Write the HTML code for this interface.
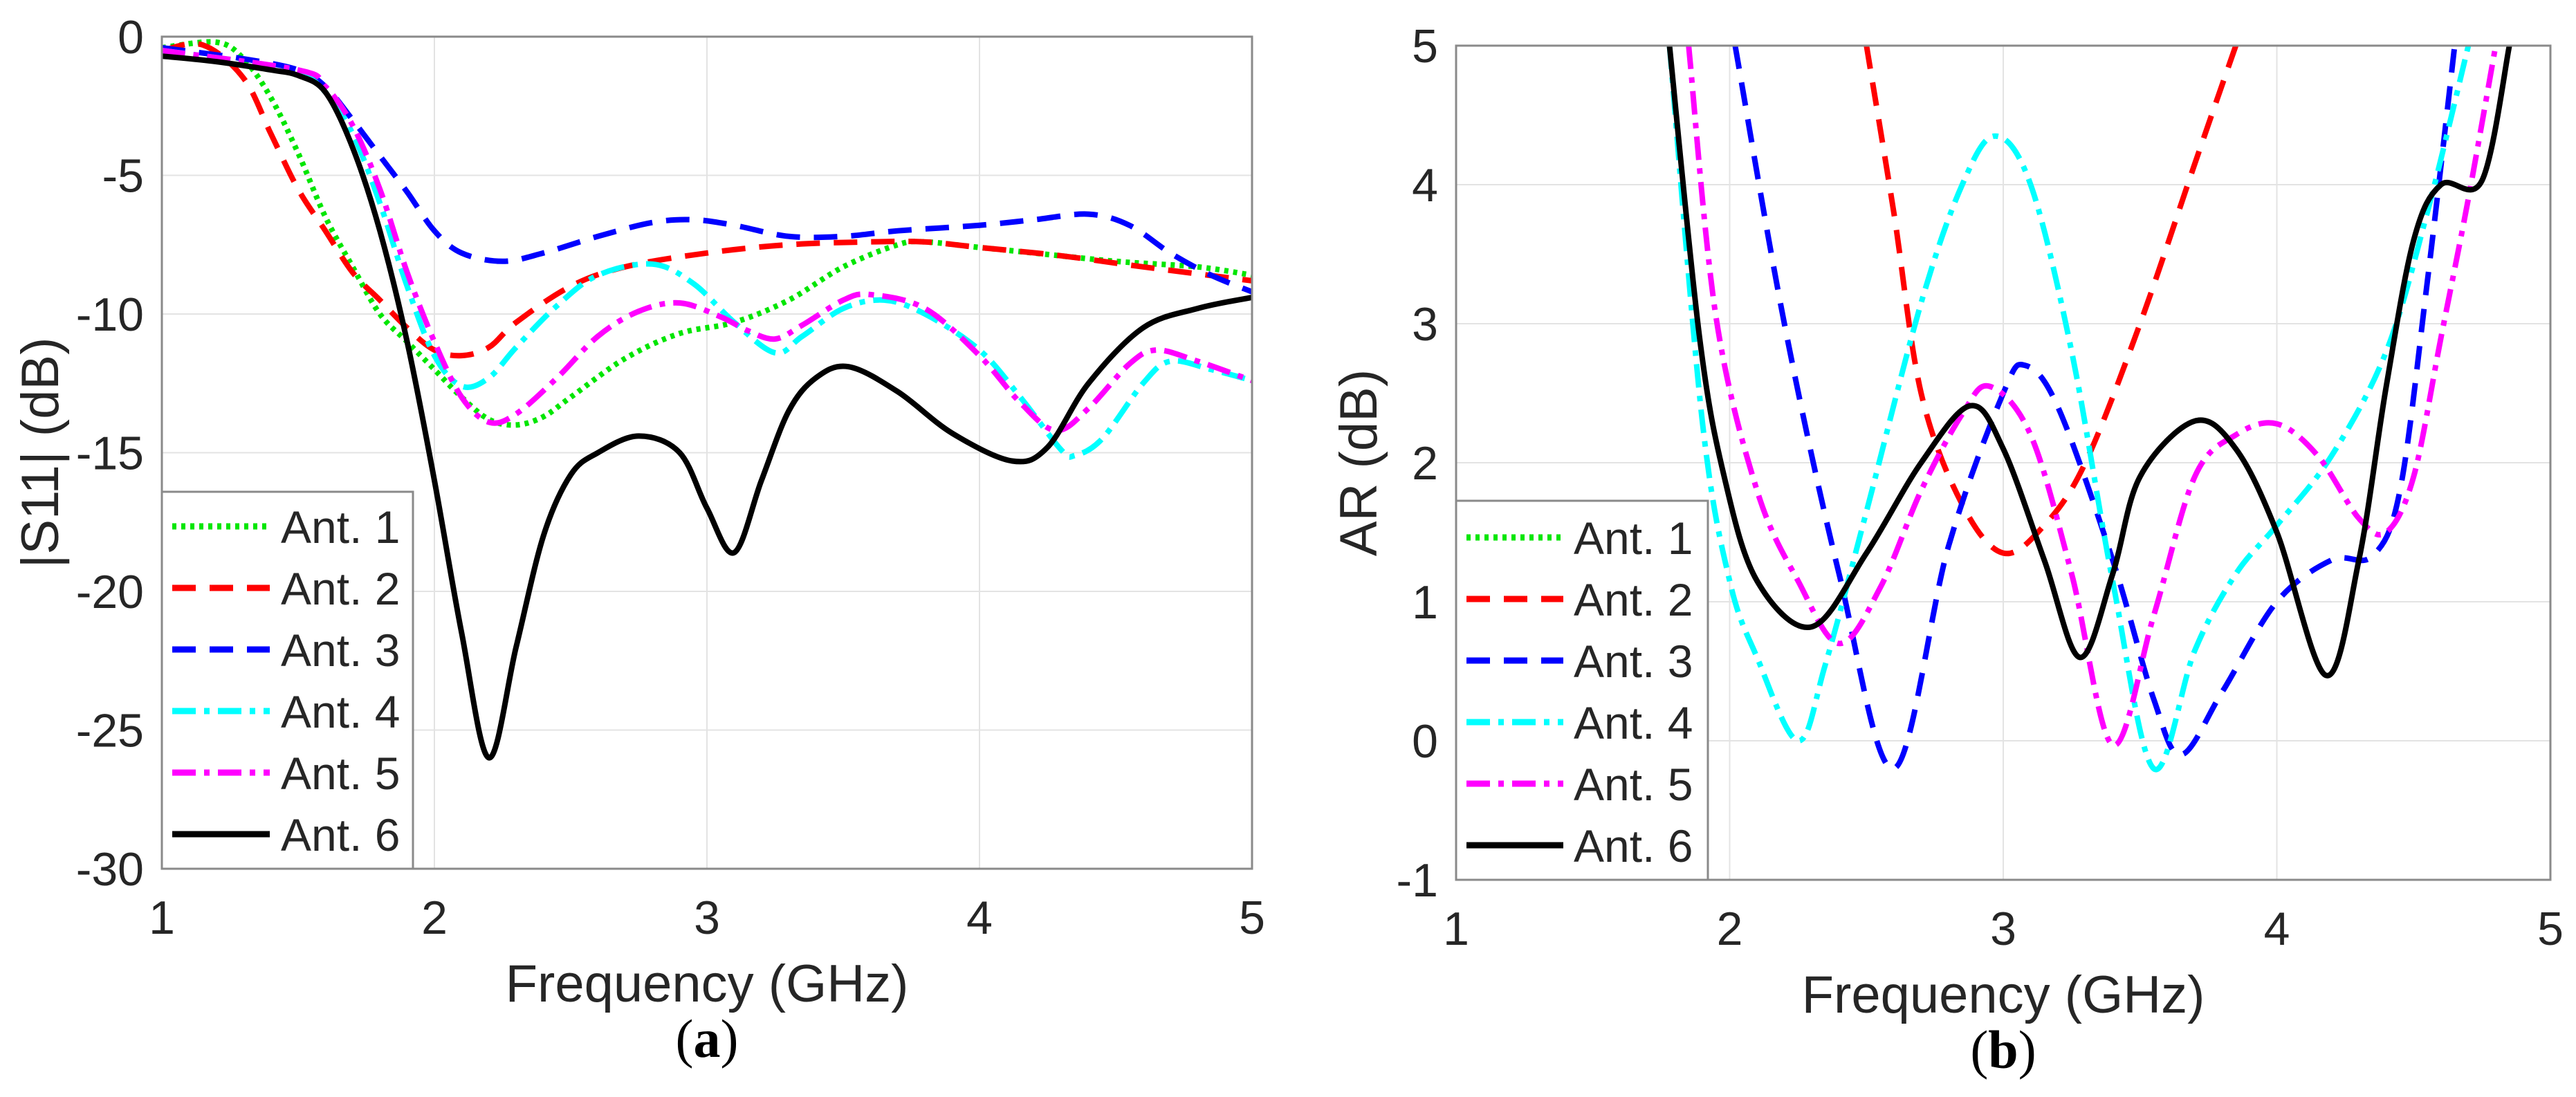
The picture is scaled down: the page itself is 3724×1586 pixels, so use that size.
<!DOCTYPE html>
<html><head><meta charset="utf-8">
<style>
html,body{margin:0;padding:0;background:#fff;}
svg{display:block;}
text{font-family:"Liberation Sans",Arial,sans-serif;fill:#262626;}
text.serif{font-family:"Liberation Serif",serif;fill:#000;}
</style></head>
<body>
<svg id="fig" width="3724" height="1586" viewBox="0 0 3724 1586" xmlns="http://www.w3.org/2000/svg">
<defs>
<clipPath id="clipA"><rect x="234" y="53" width="1576" height="1203"/></clipPath>
<clipPath id="clipB"><rect x="2105" y="66" width="1582" height="1206"/></clipPath>
</defs>
<g id="panelA"></g>
<g id="panelB"></g>
</svg>
<script>
// ---- Panel (a) data: |S11| (dB) ----
const xTicksA = [1, 2, 3, 4, 5];
const yTicksA = [0, -5, -10, -15, -20, -25, -30];
const s11Ant1X = [1,1.2,1.3,1.4,1.5,1.6,1.7,1.8,1.9,2.0,2.1,2.2,2.3,2.4,2.5,2.7,2.9,3.1,3.3,3.5,3.7,3.8,4.0,4.2,4.5,4.8,5];
const s11Ant1Y = [-0.4,-0.2,-0.8,-2.2,-4.2,-6.5,-8.3,-10,-11,-12,-13,-13.8,-14,-13.7,-13,-11.6,-10.7,-10.3,-9.5,-8.3,-7.5,-7.4,-7.6,-7.8,-8.1,-8.3,-8.6];
const s11Ant2X = [1,1.15,1.3,1.4,1.5,1.6,1.7,1.8,1.9,2.0,2.1,2.2,2.3,2.5,2.7,3.0,3.3,3.6,3.8,4.0,4.3,4.6,5];
const s11Ant2Y = [-0.5,-0.3,-1.5,-3.5,-5.5,-7,-8.5,-9.5,-10.5,-11.3,-11.5,-11.2,-10.3,-9,-8.3,-7.8,-7.5,-7.4,-7.4,-7.6,-7.9,-8.3,-8.8];
const s11Ant3X = [1,1.3,1.5,1.6,1.7,1.8,1.9,2.0,2.1,2.25,2.4,2.6,2.8,2.95,3.1,3.3,3.5,3.7,4.0,4.2,4.4,4.55,4.7,4.85,5];
const s11Ant3Y = [-0.4,-0.8,-1.2,-1.8,-3,-4.3,-5.6,-7,-7.8,-8.1,-7.8,-7.2,-6.7,-6.6,-6.8,-7.2,-7.2,-7,-6.8,-6.6,-6.4,-6.8,-7.8,-8.6,-9.2];
const s11Ant4X = [1,1.3,1.5,1.6,1.7,1.8,1.9,2.0,2.1,2.2,2.3,2.45,2.6,2.8,2.95,3.1,3.25,3.35,3.5,3.65,3.8,4.0,4.15,4.3,4.35,4.45,4.6,4.7,4.85,5];
const s11Ant4Y = [-0.5,-0.9,-1.3,-2,-3.5,-6,-9,-11.5,-12.6,-12.3,-11.2,-9.7,-8.6,-8.2,-8.9,-10.3,-11.4,-10.8,-9.8,-9.5,-10,-11.3,-13,-14.9,-15.1,-14.5,-12.5,-11.7,-12,-12.4];
const s11Ant5X = [1,1.5,1.6,1.7,1.8,1.9,2.0,2.1,2.2,2.3,2.45,2.6,2.75,2.9,3.05,3.15,3.25,3.35,3.5,3.6,3.8,4.0,4.15,4.28,4.4,4.55,4.65,4.8,5];
const s11Ant5Y = [-0.5,-1.2,-1.8,-3.2,-5.5,-8.5,-11,-13,-13.9,-13.6,-12.3,-10.8,-9.9,-9.6,-10.1,-10.6,-10.9,-10.4,-9.5,-9.3,-9.8,-11.5,-13.2,-14.2,-13.4,-11.8,-11.3,-11.7,-12.4];
const s11Ant6X = [1,1.2,1.4,1.5,1.6,1.7,1.8,1.9,2.0,2.1,2.2,2.3,2.4,2.5,2.6,2.75,2.9,3.0,3.1,3.2,3.3,3.4,3.52,3.7,3.9,4.12,4.25,4.4,4.6,4.8,5];
const s11Ant6Y = [-0.7,-0.9,-1.2,-1.4,-2,-4,-7,-11,-16,-21.5,-26,-22,-18,-15.8,-15,-14.4,-15,-17,-18.6,-16,-13.5,-12.3,-11.9,-12.8,-14.3,-15.3,-14.8,-12.5,-10.5,-9.8,-9.4];

// ---- Panel (b) data: AR (dB) ----
const xTicksB = [1, 2, 3, 4, 5];
const yTicksB = [5, 4, 3, 2, 1, 0, -1];
const arAnt2X = [2.5,2.6,2.7,2.85,3.0,3.15,3.3,3.5,3.7,3.85];
const arAnt2Y = [5,3.8,2.5,1.7,1.35,1.55,2.0,3.0,4.15,5];
const arAnt3X = [2.02,2.2,2.4,2.6,2.8,3.0,3.08,3.2,3.4,3.55,3.65,3.8,4.0,4.2,4.35,4.45,4.55,4.65];
const arAnt3Y = [5,3.0,1.2,-0.2,1.4,2.5,2.7,2.4,1.3,0.3,-0.1,0.35,1.0,1.3,1.33,1.8,3.3,5];
const arAnt4X = [1.78,1.9,2.0,2.1,2.25,2.35,2.5,2.7,2.85,2.97,3.1,3.25,3.4,3.55,3.7,3.85,4.0,4.2,4.4,4.55,4.7];
const arAnt4Y = [5,2.3,1.15,0.6,0,0.55,1.65,3.15,4.0,4.35,4.0,2.8,1.15,-0.2,0.65,1.2,1.55,2.05,2.8,3.8,5];
const arAnt5X = [1.85,1.95,2.1,2.25,2.4,2.55,2.7,2.85,2.95,3.1,3.25,3.4,3.55,3.7,3.85,4.0,4.15,4.3,4.4,4.5,4.6,4.7,4.8];
const arAnt5Y = [5,3.05,1.8,1.15,0.7,1.1,1.8,2.35,2.55,2.2,1.2,-0.03,0.9,1.9,2.2,2.28,2.05,1.6,1.5,1.9,2.9,3.9,5];
const arAnt6X = [1.78,1.89,1.98,2.1,2.3,2.5,2.7,2.88,3.0,3.15,3.28,3.4,3.5,3.7,3.85,4.0,4.18,4.3,4.4,4.5,4.6,4.75,4.85];
const arAnt6Y = [5,2.9,1.9,1.15,0.82,1.35,2.0,2.41,2.1,1.3,0.6,1.2,1.9,2.3,2.1,1.5,0.47,1.3,2.55,3.6,4.0,4.03,5];

const legendLabels = ["Ant. 1","Ant. 2","Ant. 3","Ant. 4","Ant. 5","Ant. 6"];
const NS = "http://www.w3.org/2000/svg";
const styles = [
  {c:"#00e600", d:"6 7", cap:"butt"},
  {c:"#ff0000", d:"34 20", cap:"butt"},
  {c:"#0000ff", d:"34 20", cap:"butt"},
  {c:"#00ffff", d:"34 12 8 12", cap:"butt"},
  {c:"#ff00ff", d:"34 12 8 12", cap:"butt"},
  {c:"#000000", d:"", cap:"round"}
];

function mk(tag, attrs, parent){
  const e = document.createElementNS(NS, tag);
  for (const k in attrs) e.setAttribute(k, attrs[k]);
  parent.appendChild(e);
  return e;
}
function smoothPath(pts){
  let d = "M" + pts[0][0].toFixed(1) + "," + pts[0][1].toFixed(1);
  for (let i = 0; i < pts.length - 1; i++){
    const p0 = pts[Math.max(0,i-1)], p1 = pts[i], p2 = pts[i+1], p3 = pts[Math.min(pts.length-1,i+2)];
    const c1x = p1[0] + (p2[0]-p0[0])/6, c1y = p1[1] + (p2[1]-p0[1])/6;
    const c2x = p2[0] - (p3[0]-p1[0])/6, c2y = p2[1] - (p3[1]-p1[1])/6;
    d += " C" + c1x.toFixed(1)+","+c1y.toFixed(1)+" "+c2x.toFixed(1)+","+c2y.toFixed(1)+" "+p2[0].toFixed(1)+","+p2[1].toFixed(1);
  }
  return d;
}

function drawPanel(g, cfg){
  const {L,T,R,B,xMin,xMax,yMin,yMax,xTicks,yTicks,series,clip,yTitle,yTitleX,tag,legend} = cfg;
  const sx = v => L + (v - xMin) / (xMax - xMin) * (R - L);
  const sy = v => B - (v - yMin) / (yMax - yMin) * (B - T);
  mk("rect",{x:L,y:T,width:R-L,height:B-T,fill:"#fff"},g);
  xTicks.forEach(t => {
    const l = mk("line",{x1:sx(t),x2:sx(t),y1:T,y2:B,stroke:"#e3e3e3","stroke-width":2},g);
    
    
    const tx = mk("text",{x:sx(t),y:B+94,"font-size":68,"text-anchor":"middle"},g);
    tx.textContent = t;
    
    
  });
  yTicks.forEach(t => {
    const l = mk("line",{x1:L,x2:R,y1:sy(t),y2:sy(t),stroke:"#e3e3e3","stroke-width":2},g);
    
    
    const tx = mk("text",{x:L-26,y:sy(t)+24,"font-size":68,"text-anchor":"end"},g);
    tx.textContent = t;
    
    
  });
  const sg = mk("g",{"clip-path":"url(#"+clip+")"},g);
  series.forEach(s => {
    const pts = s.x.map((v,i)=>[sx(v), sy(s.y[i])]);
    const st = styles[s.i];
    const p = mk("path",{d:smoothPath(pts),fill:"none",stroke:st.c,"stroke-width":8,"stroke-dasharray":st.d,"stroke-linecap":st.cap,"stroke-linejoin":"round"},sg);
    
    
  });
  const box = mk("rect",{x:L,y:T,width:R-L,height:B-T,fill:"none",stroke:"#8a8a8a","stroke-width":3},g);
  
  
  const lg = mk("g",{},g);
  
  
  mk("rect",{x:L,y:legend.top,width:legend.w,height:B-legend.top,fill:"#fff",stroke:"#8a8a8a","stroke-width":3},lg);
  legendLabels.forEach((lab,i)=>{
    const y = legend.y0 + i*89;
    const st = styles[i];
    const e = mk("g",{},lg);
    
    
    mk("line",{x1:legend.lx1,x2:legend.lx2,y1:y,y2:y,stroke:st.c,"stroke-width":9,"stroke-dasharray":st.d},e);
    const t = mk("text",{x:legend.tx,y:y+24,"font-size":66,fill:"#000"},e);
    t.textContent = lab;
  });
  const xt = mk("text",{x:(L+R)/2,y:B+192,"font-size":76,"text-anchor":"middle"},g);
  xt.textContent = "Frequency (GHz)";
  
  
  const yt = mk("text",{x:0,y:0,"font-size":76,"text-anchor":"middle",transform:"translate("+yTitleX+","+((T+B)/2)+") rotate(-90)"},g);
  yt.textContent = yTitle;
  
  
  const pl = mk("text",{x:(L+R)/2,y:B+272,"font-size":78,"text-anchor":"middle","class":"serif"},g);
  pl.innerHTML = '(<tspan font-weight="bold">'+tag+'</tspan>)';
  
  
}

drawPanel(document.getElementById("panelA"),{
  L:234,T:53,R:1810,B:1256,xMin:1,xMax:5,yMin:-30,yMax:0,
  xTicks:xTicksA,yTicks:yTicksA,clip:"clipA",yTitle:"|S11| (dB)",yTitleX:84,tag:"a",
  legend:{top:711,w:363,y0:761,lx1:249,lx2:390,tx:406},
  series:[
    {i:0,x:s11Ant1X,y:s11Ant1Y},{i:1,x:s11Ant2X,y:s11Ant2Y},{i:2,x:s11Ant3X,y:s11Ant3Y},
    {i:3,x:s11Ant4X,y:s11Ant4Y},{i:4,x:s11Ant5X,y:s11Ant5Y},{i:5,x:s11Ant6X,y:s11Ant6Y}
  ]
});
drawPanel(document.getElementById("panelB"),{
  L:2105,T:66,R:3687,B:1272,xMin:1,xMax:5,yMin:-1,yMax:5,
  xTicks:xTicksB,yTicks:yTicksB,clip:"clipB",yTitle:"AR (dB)",yTitleX:1990,tag:"b",
  legend:{top:724,w:364,y0:777,lx1:2120,lx2:2260,tx:2275},
  series:[
    {i:1,x:arAnt2X,y:arAnt2Y},{i:2,x:arAnt3X,y:arAnt3Y},
    {i:3,x:arAnt4X,y:arAnt4Y},{i:4,x:arAnt5X,y:arAnt5Y},{i:5,x:arAnt6X,y:arAnt6Y}
  ]
});
</script>
</body></html>
